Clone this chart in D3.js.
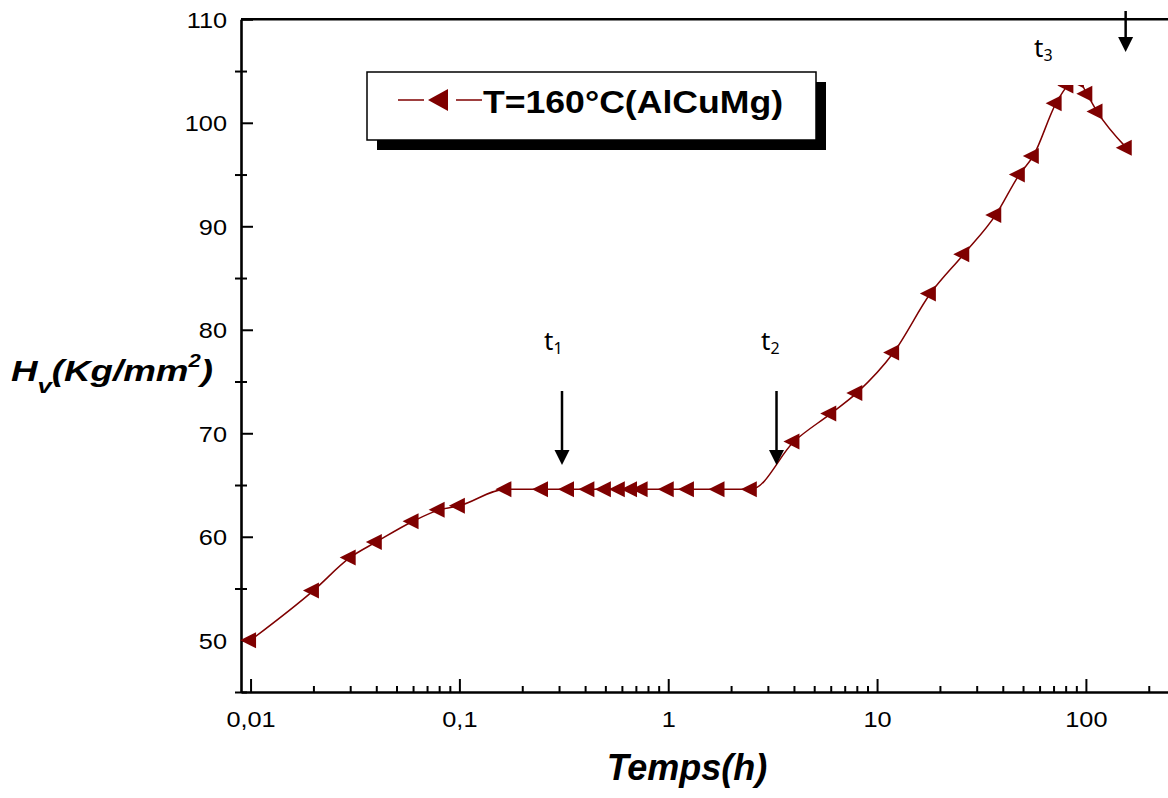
<!DOCTYPE html>
<html>
<head>
<meta charset="utf-8">
<script src="https://cdn.jsdelivr.net/npm/d3@7/dist/d3.min.js"></script>
<style>
  html, body { margin: 0; padding: 0; background: #fff; }
  svg { display: block; }
</style>
</head>
<body>
<svg id="chart" width="1168" height="798"></svg>
<script>
// Hardness Hv versus ageing time at 160 °C (AlCuMg alloy)
const times = [0.01, 0.02, 0.03, 0.04, 0.06, 0.08, 0.1, 0.167, 0.25, 0.333, 0.417, 0.5,
               0.583, 0.667, 0.75, 1, 1.25, 1.75, 2.5, 4, 6, 8, 12, 18, 26, 37, 48, 56,
               72, 82, 92, 101, 113, 156];
const hardness = [50, 54.8, 58.0, 59.5, 61.5, 62.6, 63.0, 64.6, 64.6, 64.6, 64.6, 64.6,
                  64.6, 64.6, 64.6, 64.6, 64.6, 64.6, 64.6, 69.2, 71.9, 73.9, 77.8, 83.5, 87.3, 91.1, 95.0, 96.8,
                  101.9, 103.6, 104.1, 102.8, 101.1, 97.6];
const yMajorTicks = [50, 60, 70, 80, 90, 100, 110];
const yMinorTicks = [45, 55, 65, 75, 85, 95, 105];
const xMajorTicks = [0.01, 0.1, 1, 10, 100];
const xTickLabels = ["0,01", "0,1", "1", "10", "100"];
const seriesName = "T=160°C(AlCuMg)";
// annotated stages: label index and the time the arrow points at
const stageNames = ["1", "2", "3"];
const stageTimes = [0.31, 3.3, 155];

const svg = d3.select("#chart");
const red = "#7f0000";

const x = d3.scaleLog().domain([0.009, 250]).range([241, 1169]);
const y = d3.scaleLinear().domain([45, 110]).range([692, 19.3]);

const xMinorTicks = [];
for (let e = -2; e <= 2; e++) {
  for (let m = 2; m <= 9; m++) {
    const v = m * Math.pow(10, e);
    if (v <= 250) xMinorTicks.push(v);
  }
}

const axisStyle = g => {
  g.selectAll("path.domain").attr("stroke", "#000").attr("stroke-width", 2.6);
  g.selectAll(".tick line").attr("stroke", "#000").attr("stroke-width", 2);
};

const tickFont = "Liberation Sans, Arial, sans-serif";

// left axis (major ticks point inward, labels stretched slightly)
const yAxis = svg.append("g").attr("transform", `translate(${x(0.009)},0)`)
  .call(d3.axisLeft(y).tickValues(yMajorTicks).tickSize(-12).tickSizeOuter(0).tickFormat(d3.format("d")))
  .call(axisStyle);
yAxis.selectAll(".tick text")
  .attr("x", null).attr("dy", "0.36em")
  .attr("transform", "translate(-14,0) scale(1.15,1)")
  .attr("font-family", tickFont)
  .attr("font-size", 22).attr("fill", "#000").attr("text-anchor", "end");

// left axis minor ticks, crossing the axis line
const yMinor = svg.append("g").attr("transform", `translate(${x(0.009)},0)`)
  .call(d3.axisLeft(y).tickValues(yMinorTicks).tickSize(6).tickFormat(""))
  .call(axisStyle);
yMinor.select("path.domain").remove();
yMinor.selectAll(".tick line").attr("x1", 6).attr("x2", -6);

// bottom axis
const xAxis = svg.append("g").attr("transform", `translate(0,${y(45)})`)
  .call(d3.axisBottom(x).tickValues(xMajorTicks).tickSize(-13).tickSizeOuter(0)
        .tickFormat((d, i) => xTickLabels[i]))
  .call(axisStyle);
xAxis.selectAll(".tick text")
  .attr("y", null).attr("dy", null)
  .attr("transform", "translate(0,35) scale(1.15,1)")
  .attr("font-family", tickFont)
  .attr("font-size", 22).attr("fill", "#000");

const xMinor = svg.append("g").attr("transform", `translate(0,${y(45)})`)
  .call(d3.axisBottom(x).tickValues(xMinorTicks).tickSize(-6).tickFormat(""))
  .call(axisStyle);
xMinor.select("path.domain").remove();

// top frame line
svg.append("line")
  .attr("x1", x(0.009)).attr("x2", 1168)
  .attr("y1", y(110)).attr("y2", y(110))
  .attr("stroke", "#000").attr("stroke-width", 2.6);

// axis titles
svg.append("text")
  .attr("x", 687).attr("y", 780)
  .attr("text-anchor", "middle")
  .attr("font-family", tickFont)
  .attr("font-weight", "bold").attr("font-style", "italic")
  .attr("font-size", 36)
  .text("Temps(h)");

const yTitle = svg.append("text")
  .attr("x", 11).attr("y", 381)
  .attr("font-family", tickFont)
  .attr("font-weight", "bold").attr("font-style", "italic")
  .attr("font-size", 30)
  .attr("textLength", 202).attr("lengthAdjust", "spacingAndGlyphs");
yTitle.append("tspan").text("H");
yTitle.append("tspan").attr("dy", 12).attr("font-size", 21).text("v");
yTitle.append("tspan").attr("dy", -12).text("(Kg/mm");
yTitle.append("tspan").attr("dy", -14).attr("font-size", 18).text("2");
yTitle.append("tspan").attr("dy", 14).text(")");

// data curve
const line = d3.line()
  .x((d, i) => x(times[i]))
  .y(d => y(d))
  .curve(d3.curveMonotoneX);

svg.append("path")
  .datum(hardness)
  .attr("d", line)
  .attr("fill", "none")
  .attr("stroke", red)
  .attr("stroke-width", 1.5);

const tri = "M-10.5,0L5.5,-8L5.5,8Z";
svg.append("g").selectAll("path")
  .data(hardness)
  .join("path")
  .attr("d", tri)
  .attr("transform", (d, i) => `translate(${x(times[i])},${y(d)})`)
  .attr("fill", red);

// legend
const lg = svg.append("g");
lg.append("rect").attr("x", 377).attr("y", 82).attr("width", 449).attr("height", 68).attr("fill", "#000");
lg.append("rect").attr("x", 367).attr("y", 72).attr("width", 449).attr("height", 68)
  .attr("fill", "#fff").attr("stroke", "#000").attr("stroke-width", 1.5);
lg.append("line").attr("x1", 398).attr("x2", 424).attr("y1", 100).attr("y2", 100)
  .attr("stroke", red).attr("stroke-width", 1.5);
lg.append("line").attr("x1", 456).attr("x2", 482).attr("y1", 100).attr("y2", 100)
  .attr("stroke", red).attr("stroke-width", 1.5);
lg.append("path").attr("d", "M-13.5,0L6.5,-11L6.5,11Z")
  .attr("transform", "translate(441.5,100)").attr("fill", red);
lg.append("text")
  .attr("x", 483).attr("y", 113)
  .attr("font-family", tickFont)
  .attr("font-weight", "bold").attr("font-size", 31)
  .attr("textLength", 300).attr("lengthAdjust", "spacingAndGlyphs")
  .text(seriesName);

// stage annotations
const annFont = "Noto Sans, Open Sans, sans-serif";
const labelPos = [
  { lx: 544, ly: 350, ay1: 391, ay2: 465 },
  { lx: 761, ly: 350, ay1: 391, ay2: 465 },
  { lx: 1034, ly: 57, ay1: 11, ay2: 52 }
];

// the third label sits in a white text box over the peak
svg.append("rect").attr("x", 1015).attr("y", 28).attr("width", 90).attr("height", 57).attr("fill", "#fff");

stageNames.forEach((s, i) => {
  const p = labelPos[i];
  const t = svg.append("text")
    .attr("x", p.lx).attr("y", p.ly)
    .attr("font-family", annFont).attr("font-size", 26).attr("fill", "#000");
  t.append("tspan").text("t");
  t.append("tspan").attr("dy", 4).attr("font-size", 16).text(s);

  const ax = x(stageTimes[i]);
  svg.append("line")
    .attr("x1", ax).attr("x2", ax)
    .attr("y1", p.ay1).attr("y2", p.ay2 - 12)
    .attr("stroke", "#000").attr("stroke-width", 2.5);
  svg.append("path")
    .attr("d", `M${ax - 7.5},${p.ay2 - 15}L${ax + 7.5},${p.ay2 - 15}L${ax},${p.ay2}Z`)
    .attr("fill", "#000");
});
</script>
</body>
</html>
